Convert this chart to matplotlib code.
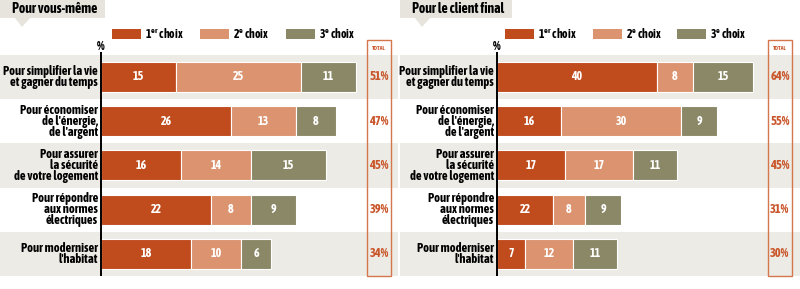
import matplotlib
matplotlib.use("Agg")
import matplotlib.pyplot as plt
from matplotlib import font_manager as fm
from matplotlib.patches import Rectangle, Polygon
import numpy as np


def wnum(w):
    return w if isinstance(w, int) else fm.weight_dict.get(w, 400)


# police étroite et grasse si disponible
fonts = fm.fontManager.ttflist
narrow_bold = sorted({f.name for f in fonts
                      if ("Narrow" in f.name or "Condensed" in f.name) and wnum(f.weight) >= 600})
dejavu_cond = any(f.name == "DejaVu Sans" and f.stretch == "condensed" and wnum(f.weight) >= 600
                  for f in fonts)
if narrow_bold:
    plt.rcParams["font.family"] = [narrow_bold[0], "DejaVu Sans"]
    k = 1.0
elif dejavu_cond:
    plt.rcParams["font.family"] = ["DejaVu Sans"]
    plt.rcParams["font.stretch"] = "condensed"
    k = 0.95
else:
    plt.rcParams["font.family"] = ["Liberation Sans", "DejaVu Sans"]
    k = 0.88
plt.rcParams["font.weight"] = "bold"

# données
categories = [
    "Pour simplifier la vie\net gagner du temps",
    "Pour économiser\nde l'énergie,\nde l'argent",
    "Pour assurer\nla sécurité\nde votre logement",
    "Pour répondre\naux normes\nélectriques",
    "Pour moderniser\nl'habitat",
]
series_names = ["1$^{\\mathregular{er}}$ choix", "2$^{\\mathregular{e}}$ choix", "3$^{\\mathregular{e}}$ choix"]

vous_1 = [15, 26, 16, 22, 18]
vous_2 = [25, 13, 14, 8, 10]
vous_3 = [11, 8, 15, 9, 6]
vous_total = ["51%", "47%", "45%", "39%", "34%"]

# longueurs des barres (le chiffre imprimé diffère parfois)
client_1 = [40, 16, 17, 14, 7]
client_2 = [9, 30, 17, 8, 12]
client_3 = [15, 9, 11, 9, 11]
client_lab1 = ["40", "16", "17", "22", "7"]
client_lab2 = ["8", "30", "17", "8", "12"]
client_lab3 = ["15", "9", "11", "9", "11"]
client_total = ["64%", "55%", "45%", "31%", "30%"]

colors = ["#c04b1d", "#dc9470", "#8b8867"]
band = "#ecebe5"
red = "#c9562a"

W, H = 800, 289
fig = plt.figure(figsize=(8, 2.89), dpi=100)


def fx(x):
    return x / W


def fy(y):
    return 1 - y / H


pitch = 44.2
row0 = 77


def panel(x0, x1, zero, scale, s1, s2, s3, l1, l2, l3, totals, title, title_w,
          leg_x, tot_x):
    ax = fig.add_axes([fx(x0), 0, (x1 - x0) / W, 1])
    ax.set_xlim(-(zero - x0) / scale, (x1 - zero) / scale)
    ax.set_ylim((H - row0) / pitch, -row0 / pitch)
    ax.axis("off")
    for i in (0, 2, 4):
        ax.axhspan(i - 0.5, i + 0.5, color=band, lw=0, zorder=0)
    y = np.arange(len(categories))
    left = np.zeros(len(categories))
    for vals, labs, c in zip((s1, s2, s3), (l1, l2, l3), colors):
        vals = np.array(vals, dtype=float)
        ax.barh(y, vals, left=left, height=0.68, color=c, edgecolor="white",
                linewidth=0.8, zorder=2)
        for yi, (v, l0, t) in enumerate(zip(vals, left, labs)):
            ax.text(l0 + v / 2, yi, t, ha="center", va="center", color="white",
                    fontsize=8.6 * k, fontweight="bold", zorder=3)
        left += vals
    ax.vlines(0, -0.57, 4.5, color="black", lw=1.4, zorder=4)
    ax.text(0, -0.68, "%", ha="center", va="center", fontsize=9 * k, fontweight="bold")
    for i, cat in enumerate(categories):
        ax.text(-3 / scale, i, cat, ha="right", va="center", fontsize=9 * k,
                fontweight="bold", linespacing=0.82)

    # titre
    fig.patches.append(Rectangle((fx(x0), fy(18)), title_w / W, 18 / H,
                                 transform=fig.transFigure, color="#e6e4dd", lw=0))
    fig.patches.append(Polygon([(fx(x0 + 15), fy(18)), (fx(x0 + 30), fy(18)),
                                (fx(x0 + 22), fy(27))],
                               transform=fig.transFigure, color="#e6e4dd", lw=0))
    fig.text(fx(x0 + 12), fy(9), title, ha="left", va="center", fontsize=10 * k,
             fontweight="bold")

    # légende
    for sx, name, c in zip(leg_x, series_names, colors):
        fig.patches.append(Rectangle((fx(sx), fy(39)), 29 / W, 10 / H,
                                     transform=fig.transFigure, color=c, lw=0))
        fig.text(fx(sx + 33), fy(34), name, ha="left", va="center", fontsize=8.5 * k,
                 fontweight="bold")

    # colonne total
    fig.patches.append(Rectangle((fx(tot_x), fy(276)), 24 / W, 236 / H,
                                 transform=fig.transFigure, fill=False,
                                 edgecolor="#d4774d", lw=1.0))
    cx = tot_x + 12
    fig.text(fx(cx), fy(48), "TOTAL", ha="center", va="center", fontsize=4.2,
             color=red, fontweight="bold")
    for i, t in enumerate(totals):
        fig.text(fx(cx), fy(row0 + i * pitch), t, ha="center", va="center",
                 fontsize=9 * k, color=red, fontweight="bold")


panel(0, 398, 101, 5, vous_1, vous_2, vous_3,
      [str(v) for v in vous_1], [str(v) for v in vous_2], [str(v) for v in vous_3],
      vous_total, "Pour vous-même", 105, [112, 200, 286], 367)
panel(400, 800, 497, 4, client_1, client_2, client_3,
      client_lab1, client_lab2, client_lab3,
      client_total, "Pour le client final", 112, [505, 593, 677], 768)

fig.savefig("out.png", dpi=100)
